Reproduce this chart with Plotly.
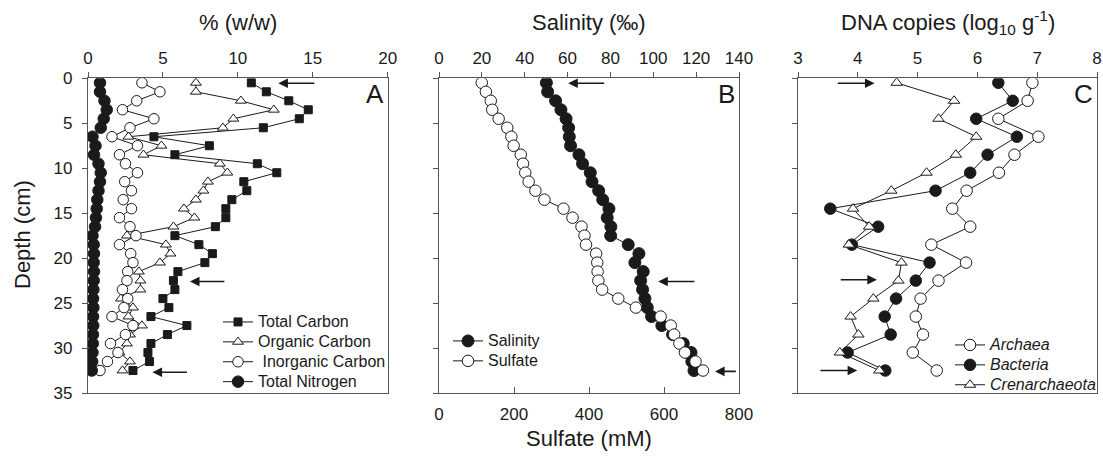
import plotly.graph_objects as go

# ---------------- data ----------------
# Panel A / B depths (cm)
depth_cm = [0.5, 1.5, 2.5, 3.5, 4.5, 5.5, 6.5, 7.5, 8.5, 9.5, 10.5, 11.5, 12.5, 13.5,
            14.5, 15.5, 16.5, 17.5, 18.5, 19.5, 20.5, 21.5, 22.5, 23.5, 24.5, 25.5,
            26.5, 27.5, 28.5, 29.5, 30.5, 31.5, 32.5]

total_carbon = [10.9, 11.9, 13.4, 14.7, 14.1, 11.7, 4.4, 8.1, 5.8, 11.3, 12.6, 10.4, 10.6,
                9.6, 9.2, 9.2, 8.5, 5.8, 7.4, 8.3, 7.8, 6.0, 5.7, 5.8, 5.0, 5.4, 4.2, 6.6,
                5.3, 4.2, 4.0, 4.1, 3.0]
organic_carbon = [7.2, 7.2, 10.2, 12.4, 9.7, 9.0, 2.7, 4.9, 3.7, 8.8, 9.3, 8.0, 7.7, 7.2,
                  6.4, 7.1, 5.7, 2.6, 5.2, 5.5, 4.8, 3.4, 3.5, 3.5, 2.2, 3.0, 2.7, 3.6, 2.8,
                  2.6, 2.1, 2.8, 2.3]
inorganic_carbon = [3.6, 4.8, 3.25, 2.3, 4.4, 2.8, 1.6, 3.3, 2.1, 2.5, 3.3, 2.45, 2.9, 2.35,
                    2.9, 2.1, 2.8, 3.2, 2.1, 2.85, 3.0, 2.65, 2.6, 2.3, 2.65, 2.4, 1.6, 3.0,
                    2.5, 1.5, 2.0, 1.3, 0.8]
total_nitrogen = [0.8, 0.8, 1.1, 1.25, 1.05, 0.85, 0.3, 0.5, 0.4, 0.7, 0.85, 0.8, 0.7, 0.62,
                  0.58, 0.53, 0.47, 0.3, 0.38, 0.4, 0.38, 0.4, 0.38, 0.36, 0.34, 0.36, 0.34,
                  0.35, 0.33, 0.32, 0.3, 0.28, 0.25]

salinity = [50.1, 50.7, 54.4, 56.9, 59.3, 60.5, 60.8, 61.4, 65.3, 67.0, 70.6, 71.4, 74.5,
            76.4, 79.3, 78.5, 80.2, 80.1, 88.3, 93.3, 91.4, 95.3, 94.1, 95.0, 96.1, 97.2,
            99.2, 104.0, 109.0, 114.0, 117.6, 118.0, 119.0]
sulfate = [114, 125, 138, 142, 159, 182, 193, 199, 218, 224, 230, 239, 257, 281, 332, 356,
           380, 388, 392, 419, 422, 423, 425, 435, 478, 525, 591, 618, 627, 641, 656, 684, 704]

# Panel C depths (cm)
depth_dna = [0.5, 2.5, 4.5, 6.5, 8.5, 10.5, 12.5, 14.5, 16.5, 18.5, 20.5, 22.5, 24.5, 26.5,
             28.5, 30.5, 32.5]
archaea = [6.92, 6.84, 6.35, 7.02, 6.62, 6.36, 5.82, 5.58, 5.88, 5.23, 5.81, 5.35, 5.05,
           4.97, 5.09, 4.92, 5.32]
bacteria = [6.35, 6.59, 5.98, 6.66, 6.17, 5.88, 5.30, 3.54, 4.34, 3.90, 5.20, 4.97, 4.64,
            4.45, 4.55, 3.83, 4.46]
crenarchaeota = [4.65, 5.61, 5.35, 5.98, 5.64, 5.15, 4.56, 3.92, 4.19, 3.85, 4.73, 4.68,
                 4.26, 3.88, 4.01, 3.70, 4.36]

# arrows (depth, tail value, tip value)
arrows_a = [(0.55, 15.2, 12.7), (22.6, 9.2, 6.8), (32.7, 6.7, 4.3)]
arrows_b = [(0.55, 77.8, 60.3), (22.6, 119.9, 102.3), (32.6, 139.2, 128.8)]
arrows_c = [(0.55, 3.64, 4.28), (22.4, 3.69, 4.32), (32.5, 3.35, 3.99)]

depth_ticks = [0, 5, 10, 15, 20, 25, 30, 35]

# ---------------- figure ----------------
FONT = "Liberation Sans, Arial, sans-serif"
INK = "#1a1a1a"
AXC = "#555555"
W, H = 1103, 456

def px_x(p):
    return p / W

def px_y(p):
    return 1 - p / H

domA = [px_x(88), px_x(387.7)]
domB = [px_x(439), px_x(739)]
domC = [px_x(798), px_x(1097)]
domY = [px_y(393), px_y(78.3)]

fig = go.Figure()

def lg(name):
    return '<span style="font-size:16px">' + name + '</span>'

def add(x, y, name, xa, ya, symbol, filled, size, legend):
    fig.add_trace(go.Scatter(
        x=x, y=y, name=lg(name), mode="lines+markers", xaxis=xa, yaxis=ya,
        legend=legend,
        line=dict(color=INK, width=1),
        marker=dict(symbol=symbol, size=size,
                    color=INK if filled else "white",
                    line=dict(color=INK, width=1)),
    ))

add(total_carbon, depth_cm, "Total Carbon", "x", "y", "square", True, 8, "legend")
add(organic_carbon, depth_cm, "Organic Carbon", "x", "y", "triangle-up", False, 9.5, "legend")
add(inorganic_carbon, depth_cm, " Inorganic Carbon", "x", "y", "circle", False, 10.5, "legend")
add(total_nitrogen, depth_cm, "Total Nitrogen", "x", "y", "circle", True, 11.5, "legend")

add(salinity, depth_cm, "Salinity", "x2", "y2", "circle", True, 12, "legend2")
add(sulfate, depth_cm, "Sulfate", "x4", "y2", "circle", False, 11.5, "legend2")

add(archaea, depth_dna, "<i>Archaea</i>", "x3", "y3", "circle", False, 11.5, "legend3")
add(bacteria, depth_dna, "<i>Bacteria</i>", "x3", "y3", "circle", True, 11.5, "legend3")
add(crenarchaeota, depth_dna, "<i>Crenarchaeota</i>", "x3", "y3", "triangle-up", False, 10, "legend3")

tickfont = dict(family=FONT, size=17, color=INK)

def xaxis(dom, rng, dtick, anchor):
    return dict(domain=dom, range=rng, dtick=dtick, tick0=rng[0], side="top", anchor=anchor,
                showline=True, linecolor=AXC, linewidth=1.2, mirror=True,
                ticks="outside", ticklen=5, tickcolor=AXC, tickwidth=1.2,
                tickfont=tickfont, showgrid=False, zeroline=False, ticklabelstandoff=1,
                automargin=False)

def yaxis(labels, anchor):
    return dict(domain=domY, range=[35, 0], tickvals=depth_ticks, anchor=anchor,
                showline=True, linecolor=AXC, linewidth=1.2, mirror=True,
                ticks="outside", ticklen=5, tickcolor=AXC, tickwidth=1.2,
                showticklabels=labels, tickfont=tickfont, showgrid=False, zeroline=False,
                ticklabelstandoff=6, automargin=False)

legfont = dict(family=FONT, size=13, color=INK)
fig.update_layout(
    width=W, height=H, margin=dict(l=0, r=0, t=0, b=0, autoexpand=False),
    paper_bgcolor="white", plot_bgcolor="white",
    xaxis=xaxis(domA, [0, 20], 5, "y"),
    yaxis=yaxis(True, "x"),
    xaxis2=xaxis(domB, [0, 140], 20, "y2"),
    yaxis2=yaxis(False, "x2"),
    xaxis3=xaxis(domC, [3, 8], 1, "y3"),
    yaxis3=yaxis(False, "x3"),
    xaxis4=dict(overlaying="x2", anchor="y2", side="bottom", range=[0, 800], dtick=200,
                showline=True, linecolor=AXC, linewidth=1.2, ticks="inside", ticklen=6,
                tickcolor=AXC, tickwidth=1.2, tickfont=tickfont, showgrid=False,
                zeroline=False, ticklabelstandoff=5, automargin=False),
    legend=dict(x=px_x(218), y=px_y(307), xanchor="left", yanchor="top",
                bgcolor="rgba(0,0,0,0)", font=legfont, tracegroupgap=0),
    legend2=dict(x=px_x(448), y=px_y(326), xanchor="left", yanchor="top",
                 bgcolor="rgba(0,0,0,0)", font=legfont),
    legend3=dict(x=px_x(950), y=px_y(330), xanchor="left", yanchor="top",
                 bgcolor="rgba(0,0,0,0)", font=legfont),
    showlegend=True,
)

titlefont = dict(family=FONT, size=22, color=INK)
anns = [
    dict(text="% (w/w)", x=(domA[0] + domA[1]) / 2, y=px_y(22), xref="paper", yref="paper",
         showarrow=False, font=titlefont, xanchor="center", yanchor="middle"),
    dict(text="Salinity (‰)", x=(domB[0] + domB[1]) / 2, y=px_y(22), xref="paper", yref="paper",
         showarrow=False, font=titlefont, xanchor="center", yanchor="middle"),
    dict(text="DNA copies (log<sub>10</sub> g<sup>-1</sup>)", x=(domC[0] + domC[1]) / 2,
         y=px_y(22), xref="paper", yref="paper",
         showarrow=False, font=titlefont, xanchor="center", yanchor="middle"),
    dict(text="Sulfate (mM)", x=(domB[0] + domB[1]) / 2, y=px_y(438), xref="paper", yref="paper",
         showarrow=False, font=titlefont, xanchor="center", yanchor="middle"),
    dict(text="Depth (cm)", x=px_x(22), y=px_y(235), xref="paper", yref="paper", textangle=-90,
         showarrow=False, font=titlefont, xanchor="center", yanchor="middle"),
]
letterfont = dict(family=FONT, size=26, color=INK)
for letter, xr, yr, xv in [("A", "x", "y", 20), ("B", "x2", "y2", 140), ("C", "x3", "y3", 8)]:
    anns.append(dict(text=letter, x=xv, y=1.7, xref=xr, yref=yr, showarrow=False,
                     font=letterfont, xanchor="right", yanchor="middle", xshift=-2))

for arr, xr, yr in [(arrows_a, "x", "y"), (arrows_b, "x2", "y2"), (arrows_c, "x3", "y3")]:
    for d, tail, tip in arr:
        anns.append(dict(text="", x=tip, y=d, ax=tail, ay=d, xref=xr, yref=yr,
                         axref=xr, ayref=yr, showarrow=True, arrowhead=2, arrowsize=1.2,
                         arrowwidth=1.6, arrowcolor=INK, standoff=0))

fig.update_layout(annotations=anns)
fig.write_html("out.html", config={"displayModeBar": False},
               post_script="document.body.style.margin='0';document.body.style.overflow='hidden';")
